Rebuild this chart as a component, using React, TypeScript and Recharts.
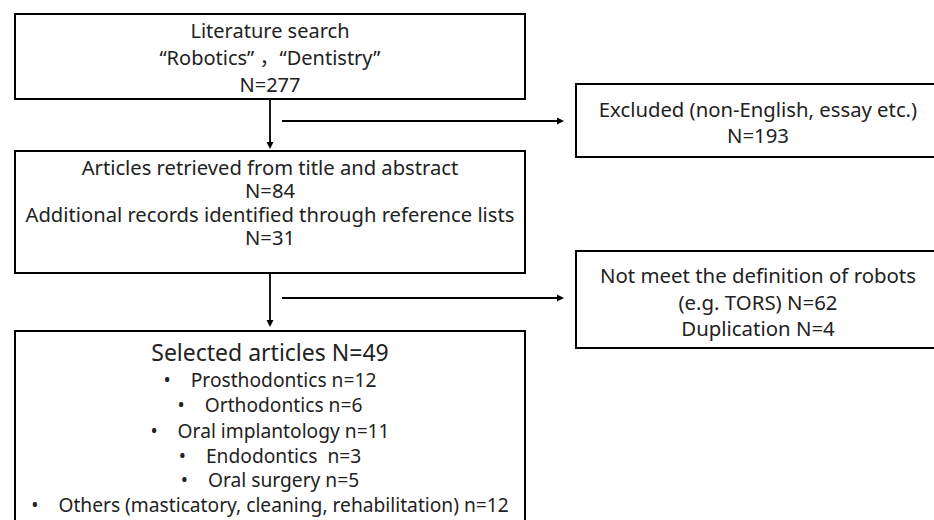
import { ComposedChart, XAxis, YAxis, ReferenceArea, ReferenceLine } from "recharts"

// flow diagram counts
const searchTerms = ["Robotics", "Dentistry"]
const searchTotal = 277
const excludedReasons = "non-English, essay etc."
const excludedTotal = 193
const retrievedTotal = 84
const referenceListTotal = 31
const notRobotExample = "TORS"
const notRobotTotal = 62
const duplicationTotal = 4
const selectedTotal = 49
const categories = [
  "Prosthodontics",
  "Orthodontics",
  "Oral implantology",
  "Endodontics ",
  "Oral surgery",
  "Others (masticatory, cleaning, rehabilitation)",
]
const categoryCounts = [12, 6, 11, 3, 5, 12]

const W = 934
const H = 520
const FONT = "'Noto Sans', 'Noto Sans CJK SC', sans-serif"

type Line = { text: React.ReactNode; y: number; size?: number }

// text lines placed inside a box (baselines are absolute diagram coords)
function boxLabel(lines: Line[], fontSize: number) {
  return (props: any) => {
    const vb = props.viewBox || {}
    const cx = vb.x + vb.width / 2
    return (
      <g>
        {lines.map((l, i) => (
          <text
            key={i}
            x={cx}
            y={l.y}
            textAnchor="middle"
            fontFamily={FONT}
            fontSize={l.size ?? fontSize}
            fill="#222"
            style={{ whiteSpace: "pre" }}
          >
            {l.text}
          </text>
        ))}
      </g>
    )
  }
}

function Arrow(props: any) {
  const { x1, y1, x2, y2 } = props
  const ang = Math.atan2(y2 - y1, x2 - x1)
  const len = 7
  const half = 3.5
  const bx = x2 - len * Math.cos(ang)
  const by = y2 - len * Math.sin(ang)
  const px = -Math.sin(ang) * half
  const py = Math.cos(ang) * half
  return (
    <g>
      <line x1={x1} y1={y1} x2={bx} y2={by} stroke="#000" strokeWidth={1.8} />
      <polygon points={`${x2},${y2} ${bx + px},${by + py} ${bx - px},${by - py}`} fill="#000" />
    </g>
  )
}

const boxStyle = { fill: "#fff", fillOpacity: 1, stroke: "#000", strokeWidth: 2 }

export default function App() {
  const searchLine = `“${searchTerms[0]}” ，“${searchTerms[1]}”`
  const bulletBaselines = [387, 412, 438, 463, 487, 512]

  return (
    <div style={{ position: "absolute", left: 0, top: 0, width: W, height: H, background: "#fff" }}>
      <ComposedChart width={W} height={H} data={[]} margin={{ top: 0, right: 0, bottom: 0, left: 0 }}>
        <XAxis type="number" dataKey="x" domain={[0, W]} hide allowDataOverflow />
        <YAxis type="number" domain={[0, H]} reversed hide allowDataOverflow />

        {/* arrows */}
        <ReferenceLine segment={[{ x: 270, y: 100 }, { x: 270, y: 149 }]} shape={Arrow} ifOverflow="visible" />
        <ReferenceLine segment={[{ x: 282, y: 121 }, { x: 564, y: 121 }]} shape={Arrow} ifOverflow="visible" />
        <ReferenceLine segment={[{ x: 270, y: 273 }, { x: 270, y: 327 }]} shape={Arrow} ifOverflow="visible" />
        <ReferenceLine segment={[{ x: 282, y: 298 }, { x: 564, y: 298 }]} shape={Arrow} ifOverflow="visible" />

        {/* boxes */}
        <ReferenceArea
          x1={15} x2={525} y1={14} y2={99}
          {...boxStyle}
          ifOverflow="visible"
          label={boxLabel(
            [
              { text: "Literature search", y: 38 },
              { text: searchLine, y: 65 },
              { text: `N=${searchTotal}`, y: 92 },
            ],
            20
          )}
        />
        <ReferenceArea
          x1={576} x2={940} y1={84} y2={157}
          {...boxStyle}
          ifOverflow="visible"
          label={boxLabel(
            [
              { text: `Excluded (${excludedReasons})`, y: 117 },
              { text: `N=${excludedTotal}`, y: 143 },
            ],
            20.3
          )}
        />
        <ReferenceArea
          x1={15} x2={525} y1={151} y2={273}
          {...boxStyle}
          ifOverflow="visible"
          label={boxLabel(
            [
              { text: "Articles retrieved from title and abstract", y: 175 },
              { text: `N=${retrievedTotal}`, y: 198 },
              { text: "Additional records identified through reference lists", y: 222 },
              { text: `N=${referenceListTotal}`, y: 245 },
            ],
            20.2
          )}
        />
        <ReferenceArea
          x1={576} x2={940} y1={251} y2={348}
          {...boxStyle}
          ifOverflow="visible"
          label={boxLabel(
            [
              { text: "Not meet the definition of robots", y: 283 },
              { text: `(e.g. ${notRobotExample}) N=${notRobotTotal}`, y: 310 },
              { text: `Duplication N=${duplicationTotal}`, y: 336 },
            ],
            20.4
          )}
        />
        <ReferenceArea
          x1={15} x2={525} y1={331} y2={540}
          {...boxStyle}
          ifOverflow="visible"
          label={boxLabel(
            [
              { text: `Selected articles N=${selectedTotal}`, y: 361, size: 23 },
              ...categories.map((c, i) => ({
                text: `•    ${c} n=${categoryCounts[i]}`,
                y: bulletBaselines[i],
              })),
            ],
            19.2
          )}
        />
      </ComposedChart>
    </div>
  )
}
